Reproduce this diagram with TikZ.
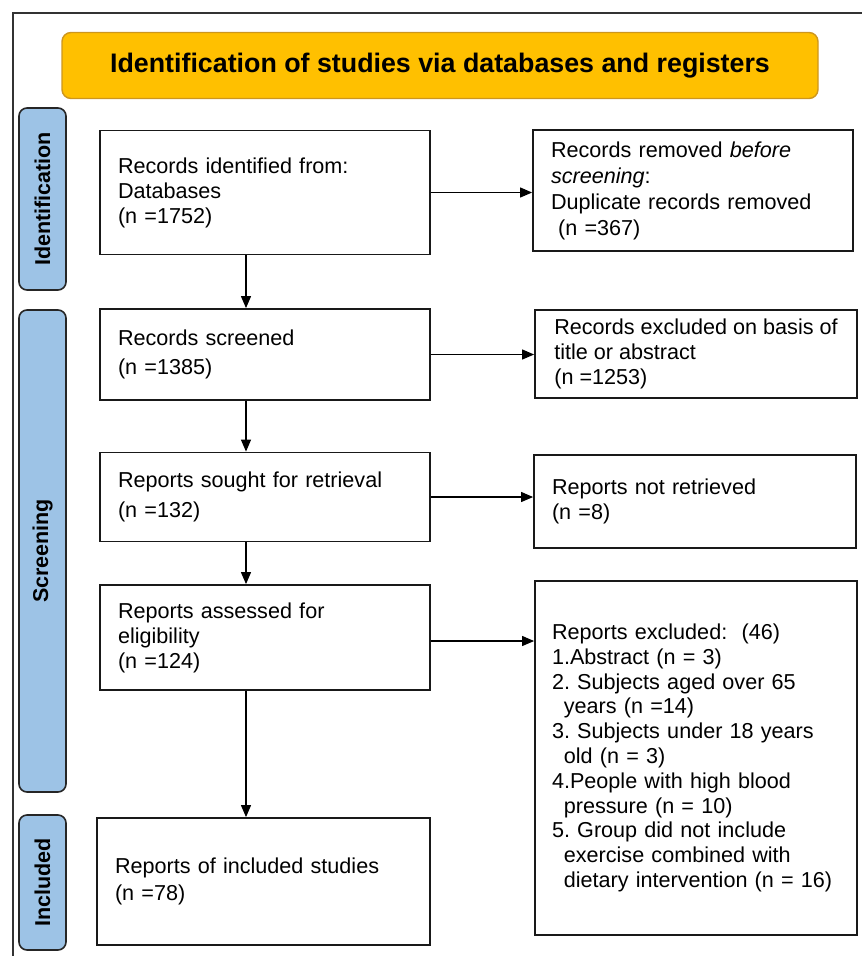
\documentclass[tikz,border=0pt]{standalone}
\usepackage{fontspec}
\setmainfont{Liberation Sans}
\usetikzlibrary{arrows.meta}
\frenchspacing
\definecolor{bannerc}{RGB}{255,192,0}
\definecolor{bannerd}{RGB}{205,150,30}
\definecolor{phasec}{RGB}{157,195,230}
\newcommand{\flowfont}{\fontsize{21.6}{25}\selectfont}
\tikzset{
  frame/.style={line width=1.6pt,black!80},
  banner/.style={rectangle,rounded corners=9pt,draw=bannerd,line width=1.4pt,fill=bannerc,inner sep=0pt,font=\fontsize{26.8}{30}\selectfont\bfseries},
  phase/.style={rectangle,rounded corners=8pt,draw=black!85,line width=1.6pt,fill=phasec,rotate=90,minimum height=47pt,inner sep=0pt,font=\fontsize{21.5}{25}\selectfont\bfseries},
  recbox/.style={rectangle,draw=black!90,line width=1.8pt,fill=white,align=left,inner xsep=18pt,inner ysep=0pt,font=\flowfont},
  flow/.style={-{Triangle[length=12pt,width=10pt]},line width=1.1pt,black},
}

\begin{document}
\begin{tikzpicture}[x=1pt,y=-1pt]
  \useasboundingbox (0,0) rectangle (862,956);
  \draw[frame] (862,13) -- (13,13) -- (13,956);
  \node[banner,minimum width=756pt,minimum height=66pt] (title) at (440,65.5)
    {Identification of studies via databases and registers};
  % phase labels down the left side
  \node[phase,minimum width=182pt] (ident)  at (42.5,199)   {Identification};
  \node[phase,minimum width=482pt] (screen) at (42.5,551)   {Screening};
  \node[phase,minimum width=135pt] (incl)   at (42.5,882.5) {Included};
  % main column
  \node[recbox,text width=294pt,minimum height=124pt] (ident-db) at (265,192.5)
    {Records identified from:\\ Databases\\ (n =1752)};
  \node[recbox,text width=294pt,minimum height=91pt,font=\fontsize{21.6}{29}\selectfont] (screened) at (265,354.5)
    {Records screened\\ (n =1385)};
  \node[recbox,text width=294pt,minimum height=89pt,font=\fontsize{21.6}{30}\selectfont] (sought) at (265,497)
    {Reports sought for retrieval\\ (n =132)};
  \node[recbox,text width=294pt,minimum height=105pt] (assessed) at (265,637.5)
    {Reports assessed for\\ eligibility\\ (n =124)};
  \node[recbox,text width=297pt,minimum height=127pt,font=\fontsize{21.6}{27}\selectfont] (included) at (263.5,881.5)
    {Reports of included studies\\ (n =78)};
  % side column
  \node[recbox,text width=284pt,minimum height=121pt,font=\fontsize{21.6}{26}\selectfont] (dupes) at (693,190.5)
    {Records removed \textit{before}\\ \textit{screening}:\\ Duplicate records removed\\ \ (n =367)};
  \node[recbox,inner xsep=17pt,minimum width=322pt,minimum height=88pt] (excl-title) at (696,354)
    {Records excluded on basis of\\ title or abstract\\ (n =1253)};
  \node[recbox,text width=286pt,minimum height=93pt] (not-retr) at (695,501.5)
    {Reports not retrieved\\ (n =8)};
  \node[recbox,text width=288pt,inner xsep=17pt,minimum height=354pt,font=\fontsize{21.6}{24.8}\selectfont] (excl-rep) at (696,758)
    {Reports excluded:\ \ (46)\\
     1.Abstract (n = 3)\\
     2. Subjects aged over 65\\
     \hspace*{0.55em}years (n =14)\\
     3. Subjects under 18 years\\
     \hspace*{0.55em}old (n = 3)\\
     4.People with high blood\\
     \hspace*{0.55em}pressure (n = 10)\\
     5. Group did not include\\
     \hspace*{0.55em}exercise combined with\\
     \hspace*{0.55em}dietary intervention (n = 16)};
  % connectors
  \coordinate (spine) at (246,0);
  \draw[flow] (ident-db.south -| spine) -- (screened.north -| spine);
  \draw[flow] (screened.south -| spine) -- (sought.north -| spine);
  \draw[flow] (sought.south -| spine)   -- (assessed.north -| spine);
  \draw[flow] (assessed.south -| spine) -- (included.north -| spine);
  \draw[flow] (ident-db.east) -- (ident-db.east -| dupes.west);
  \draw[flow] (screened.east) -- (screened.east -| excl-title.west);
  \draw[flow] (sought.east)   -- (sought.east -| not-retr.west);
  \draw[flow] ([yshift=-3.5pt]assessed.east) -- ([yshift=-3.5pt]assessed.east -| excl-rep.west);
\end{tikzpicture}
\end{document}
